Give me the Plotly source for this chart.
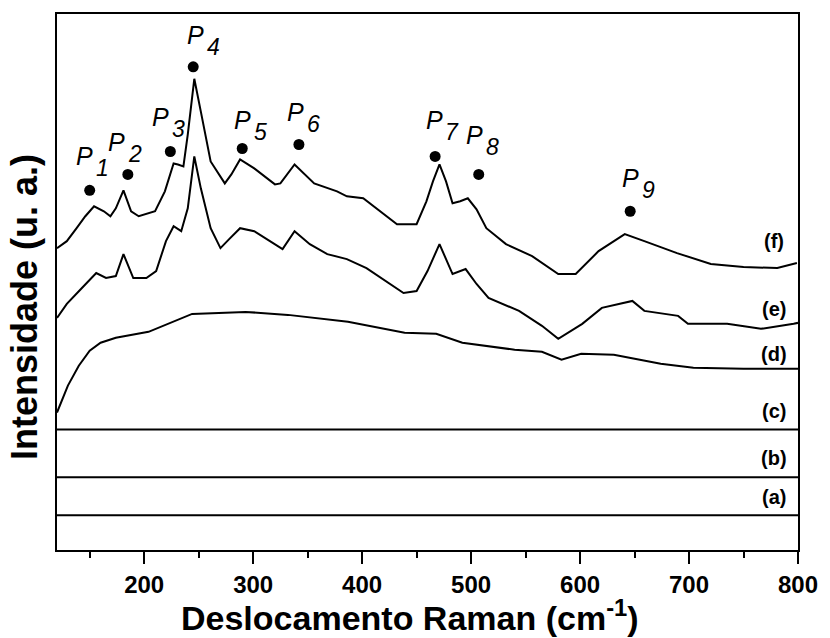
import plotly.graph_objects as go

# Raman shift (cm-1) and intensity (a.u., offset for stacking) of each spectrum
wn_f = [120, 129, 138, 146, 154, 163, 169, 174, 181, 188, 195, 210, 219, 227, 231, 236,
        240, 246, 252, 261, 274, 280, 288, 301, 320, 325, 338, 347, 356, 377, 386, 401,
        432, 450, 459, 465, 471, 477, 483, 490, 497, 505, 514, 532, 556, 580, 596, 617,
        641, 659, 689, 720, 750, 781, 799]
int_f = [303, 310, 323, 335, 345, 340, 335, 343, 361, 340, 335, 340, 360, 388, 387, 385,
         417, 473, 440, 390, 368, 377, 392, 383, 367, 368, 387, 377, 368, 360, 355, 353,
         327, 327, 350, 370, 387, 370, 348, 350, 353, 342, 323, 307, 295, 277, 277, 300,
         317, 310, 298, 287, 284, 283, 288]

wn_e = [120, 129, 142, 151, 156, 165, 174, 181, 190, 202, 211, 220, 227, 234, 240, 246,
        252, 261, 270, 278, 288, 301, 320, 327, 338, 352, 368, 386, 404, 438, 450, 460,
        471, 477, 483, 495, 505, 516, 544, 565, 580, 602, 620, 648, 659, 690, 699, 735,
        766, 796, 800]
int_e = [233, 247, 262, 273, 278, 273, 275, 297, 273, 273, 280, 310, 325, 320, 343, 395,
         363, 323, 303, 312, 323, 320, 307, 302, 320, 307, 297, 292, 283, 258, 260, 280,
         307, 292, 277, 282, 267, 253, 240, 225, 212, 227, 243, 250, 240, 235, 227, 227,
         222, 227, 228]

wn_d = [120, 130, 140, 150, 160, 174, 204, 244, 293, 332, 387, 439, 468, 492, 540, 565,
        583, 601, 631, 674, 704, 750, 800]
int_d = [138, 165, 185, 200, 208, 213, 219, 237, 239, 236, 229, 218, 217, 208, 201, 199,
         191, 197, 196, 187, 183, 182, 182]

# Featureless spectra (a)-(c)
wn_flat = [120, 800]
int_a = [35, 35]
int_b = [73, 73]
int_c = [121, 121]

# Spectrum labels and where they sit
curve_labels = ["(a)", "(b)", "(c)", "(d)", "(e)", "(f)"]
label_wn = [778, 778, 778, 778, 778, 778]
label_int = [53, 92, 140, 197, 242, 310]

# Assigned bands P1-P9: marker position and label position
peak_names = ["1", "2", "3", "4", "5", "6", "7", "8", "9"]
peak_wn = [150, 185, 224, 245, 290, 342, 467, 507, 646]
peak_int = [361, 377, 400, 485, 403, 407, 395, 377, 340]
peak_label_wn = [145, 175, 215, 247, 290, 339, 466, 503, 646]
peak_label_int = [395, 410, 435, 517, 432, 440, 432, 417, 373]

x_ticks = [200, 300, 400, 500, 600, 700, 800]

fig = go.Figure()

line_style = dict(color="black", width=2)
for xs, ys in [(wn_flat, int_a), (wn_flat, int_b), (wn_flat, int_c),
               (wn_d, int_d), (wn_e, int_e), (wn_f, int_f)]:
    fig.add_trace(go.Scatter(x=xs, y=ys, mode="lines", line=line_style,
                             hoverinfo="skip", showlegend=False))

fig.add_trace(go.Scatter(x=peak_wn, y=peak_int, mode="markers",
                         marker=dict(color="black", size=11),
                         hoverinfo="skip", showlegend=False))

for txt, xv, yv in zip(curve_labels, label_wn, label_int):
    fig.add_annotation(x=xv, y=yv, text=txt, showarrow=False,
                       font=dict(family="Liberation Sans", size=20, color="black",
                                 weight="bold"))

for name, xv, yv in zip(peak_names, peak_label_wn, peak_label_int):
    fig.add_annotation(x=xv, y=yv, text="<i>P</i>", showarrow=False,
                       font=dict(family="Liberation Sans", size=25, color="black"))
    fig.add_annotation(x=xv, y=yv, text="<i>" + name + "</i>", showarrow=False,
                       xshift=18, yshift=-12,
                       font=dict(family="Liberation Sans", size=23, color="black"))

fig.add_annotation(xref="paper", yref="paper", x=0.476, y=-0.123,
                   text="Deslocamento Raman (cm<sup>-1</sup>)", showarrow=False,
                   xanchor="center", yanchor="middle",
                   font=dict(family="Liberation Sans", size=34, color="black",
                             weight="bold"))
fig.add_annotation(xref="paper", yref="paper", x=-0.043, y=0.4535,
                   text="Intensidade (u. a.)", showarrow=False, textangle=-90,
                   xanchor="center", yanchor="middle",
                   font=dict(family="Liberation Sans", size=36, color="black",
                             weight="bold"))

fig.update_layout(
    width=830, height=638,
    margin=dict(l=57, r=25, t=12, b=88),
    paper_bgcolor="white", plot_bgcolor="white",
    xaxis=dict(range=[120, 800], tickvals=x_ticks, ticks="outside", ticklen=12,
               tickwidth=2, tickcolor="black", showline=True, linewidth=2,
               linecolor="black", mirror=True, showgrid=False, zeroline=False,
               minor=dict(dtick=50, tick0=0, ticks="outside", ticklen=6,
                          tickwidth=2, tickcolor="black"),
               tickfont=dict(family="Liberation Sans", size=24, color="black",
                             weight="bold")),
    yaxis=dict(range=[0, 538], showticklabels=False, ticks="", showline=True,
               linewidth=2, linecolor="black", mirror=True, showgrid=False,
               zeroline=False),
)

fig.write_html("out.html")
